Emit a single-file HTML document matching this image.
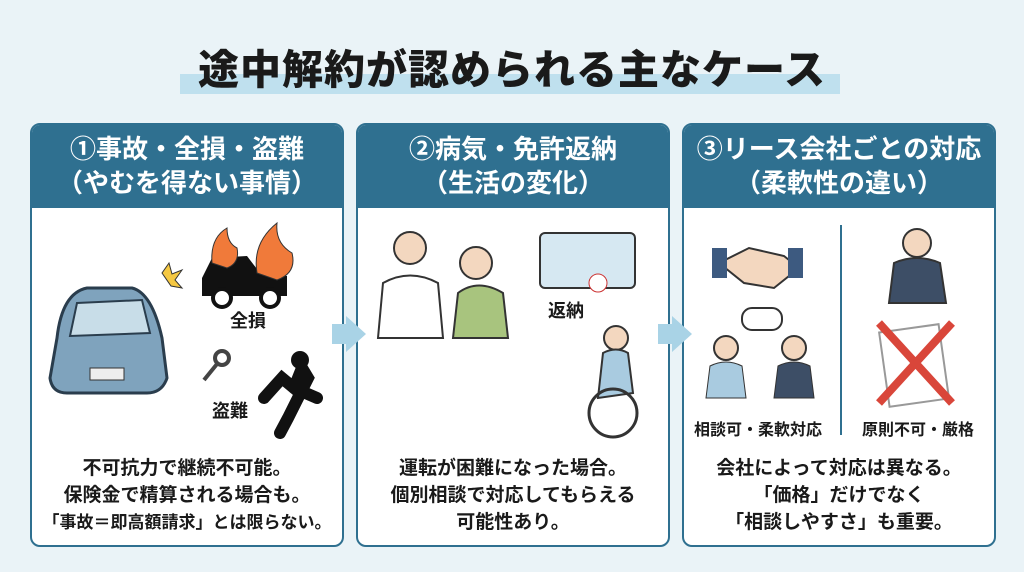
<!DOCTYPE html>
<html><head><meta charset="utf-8"><style>
*{margin:0;padding:0;box-sizing:border-box}
body{width:1024px;height:572px;background:#eaf3f7;font-family:"Liberation Sans","Noto Sans CJK JP",sans-serif;position:relative;overflow:hidden;color:#1a1a1a}
.title{position:absolute;left:0;width:1024px;top:36px;text-align:center;font-size:41px;font-weight:900;letter-spacing:1px}
.hl{position:absolute;left:180px;top:74px;width:660px;height:20px;background:#bfe0ee}
.card{position:absolute;top:123px;width:314px;height:424px;background:#fff;border:2px solid #2f7090;border-radius:10px;overflow:hidden}
.hd{height:83px;background:#2f7090;color:#fff;text-align:center;font-weight:700;font-size:26px;line-height:34px;padding-top:7px}
.txt{position:absolute;left:0;width:100%;top:330px;text-align:center;font-weight:700;font-size:19px;line-height:27px}
.lbl{position:absolute;font-weight:700;font-size:18px}
.arr{position:absolute;top:316px;width:0;height:0;border-top:18px solid transparent;border-bottom:18px solid transparent;border-left:20px solid #a9d3e6}
.arrb{position:absolute;top:324px;width:16px;height:20px;background:#a9d3e6}
</style></head><body>
<div class="hl"></div>
<div class="title">途中解約が認められる主なケース</div>

<div class="card" style="left:30px">
<div class="hd">①事故・全損・盗難<br>（やむを得ない事情）</div>
<svg style="position:absolute;left:0;top:83px" width="314" height="240">
<path d="M25 130 Q30 85 55 80 L100 80 Q120 85 130 130 L135 170 Q130 185 115 185 L35 185 Q20 185 18 170Z" fill="#7fa3bd" stroke="#2a3d4d" stroke-width="3"/>
<path d="M45 95 L110 92 L118 125 L38 128Z" fill="#c8dde8" stroke="#2a3d4d" stroke-width="2"/>
<rect x="58" y="160" width="34" height="12" fill="#eee" stroke="#333"/>
<polygon points="130,65 137,55 140,66 150,62 143,72 150,80 139,78" fill="#f5c842" stroke="#333"/>
<path d="M170 70 L180 50 L215 48 L228 65 L255 68 L255 88 L170 88Z" fill="#111"/>
<circle cx="190" cy="90" r="9" fill="#fff" stroke="#111" stroke-width="4"/><circle cx="238" cy="90" r="9" fill="#fff" stroke="#111" stroke-width="4"/>
<path d="M180 55 Q178 30 195 20 Q195 35 205 40 Q208 55 195 60Z" fill="#f07a3a" stroke="#333"/>
<path d="M225 65 Q220 35 245 15 Q243 35 260 45 Q265 65 245 72Z" fill="#f07a3a" stroke="#333"/>
<path d="M232 190 L250 170 L262 180 L270 160 L276 170 L256 210 L248 225 M262 180 L285 190" stroke="#111" stroke-width="12" fill="none" stroke-linecap="round"/>
<circle cx="268" cy="152" r="9" fill="#111"/>
<circle cx="190" cy="150" r="7" fill="none" stroke="#444" stroke-width="4"/><path d="M185 156 L172 172" stroke="#444" stroke-width="4"/>
</svg>
<div class="lbl" style="left:198px;top:182px">全損</div>
<div class="lbl" style="left:180px;top:272px">盗難</div>
<div class="txt">不可抗力で継続不可能。<br>保険金で精算される場合も。<br><span style="font-size:17px">「事故＝即高額請求」とは限らない。</span></div>
</div>

<div class="card" style="left:356px">
<div class="hd">②病気・免許返納<br>（生活の変化）</div>
<svg style="position:absolute;left:0;top:83px" width="314" height="240">
<circle cx="52" cy="40" r="16" fill="#f3d7bf" stroke="#333" stroke-width="2"/>
<path d="M20 130 L25 75 Q52 60 80 75 L85 130Z" fill="#fff" stroke="#333" stroke-width="2"/>
<circle cx="118" cy="55" r="16" fill="#f3d7bf" stroke="#333" stroke-width="2"/>
<path d="M95 130 L100 85 Q120 70 145 85 L150 130Z" fill="#a8c47e" stroke="#333" stroke-width="2"/>
<rect x="182" y="25" width="95" height="55" rx="5" fill="#d6e8f2" stroke="#333" stroke-width="2"/>
<circle cx="240" cy="75" r="9" fill="#fff" stroke="#c33"/>
<circle cx="258" cy="130" r="12" fill="#f3d7bf" stroke="#333" stroke-width="2"/>
<path d="M240 190 L245 145 Q258 138 270 145 L275 185Z" fill="#a9cbe0" stroke="#333" stroke-width="2"/>
<circle cx="255" cy="205" r="24" fill="none" stroke="#333" stroke-width="3"/>
</svg>
<div class="lbl" style="left:190px;top:172px">返納</div>
<div class="txt">運転が困難になった場合。<br>個別相談で対応してもらえる<br>可能性あり。</div>
</div>

<div class="card" style="left:682px">
<div class="hd">③リース会社ごとの対応<br>（柔軟性の違い）</div>
<div style="position:absolute;left:156px;top:100px;width:2px;height:210px;background:#2f7090"></div>
<svg style="position:absolute;left:0;top:83px" width="314" height="240">
<path d="M35 55 L65 40 L100 48 L115 60 L90 80 L60 75Z" fill="#f3d7bf" stroke="#333" stroke-width="2"/>
<rect x="28" y="40" width="15" height="30" fill="#3d5a80"/><rect x="104" y="40" width="15" height="30" fill="#3d5a80"/>
<circle cx="233" cy="35" r="14" fill="#f3d7bf" stroke="#333" stroke-width="2"/>
<path d="M205 95 L210 55 Q233 45 256 55 L262 95Z" fill="#3d4e66" stroke="#333" stroke-width="2"/>
<circle cx="42" cy="140" r="12" fill="#f3d7bf" stroke="#333" stroke-width="2"/><path d="M22 190 L26 158 Q42 150 58 158 L62 190Z" fill="#a9cbe0" stroke="#333"/>
<circle cx="110" cy="140" r="12" fill="#f3d7bf" stroke="#333" stroke-width="2"/><path d="M90 190 L94 158 Q110 150 126 158 L130 190Z" fill="#3d4e66" stroke="#333"/>
<rect x="58" y="100" width="40" height="22" rx="10" fill="#fff" stroke="#333" stroke-width="2"/>
<rect x="200" y="120" width="60" height="75" fill="#fff" stroke="#999" stroke-width="2" transform="rotate(-8 230 157)"/>
<path d="M195 115 L268 195 M268 115 L195 195" stroke="#d9463a" stroke-width="8"/>
</svg>
<div class="lbl" style="left:10px;top:291px;font-size:16px">相談可・柔軟対応</div>
<div class="lbl" style="left:178px;top:291px;font-size:16px">原則不可・厳格</div>
<div class="txt">会社によって対応は異なる。<br>「価格」だけでなく<br>「相談しやすさ」も重要。</div>
</div>

<div class="arrb" style="left:332px"></div><div class="arr" style="left:346px"></div>
<div class="arrb" style="left:658px"></div><div class="arr" style="left:672px"></div>
</body></html>
